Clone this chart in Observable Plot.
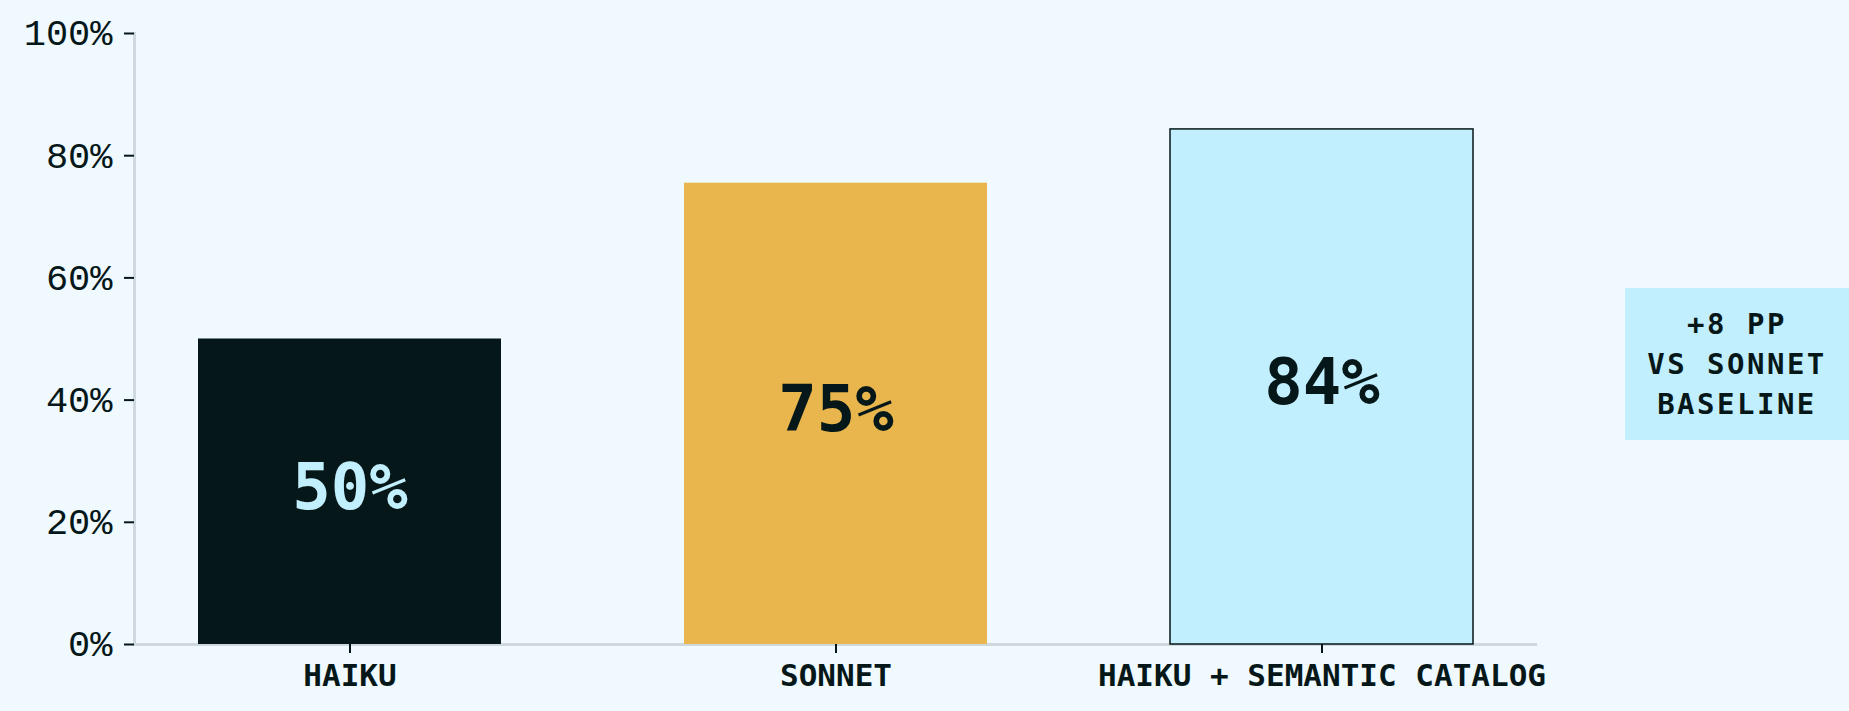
<!DOCTYPE html>
<html>
<head>
<meta charset="utf-8">
<script src="https://cdn.jsdelivr.net/npm/d3@7"></script>
<script src="https://cdn.jsdelivr.net/npm/@observablehq/plot@0.6"></script>
<style>
  html, body { margin: 0; padding: 0; background: #eff9fe; }
  #wrap { position: relative; width: 1849px; height: 711px; overflow: hidden; }
  #note {
    position: absolute; left: 1625px; top: 288px; width: 224px; height: 152px;
    background: #c2effd; color: #061719;
    font-family: "DejaVu Sans Mono", monospace; font-weight: bold; font-size: 29px;
    line-height: 40px; letter-spacing: 2.5px; text-align: center;
    display: flex; align-items: center; justify-content: center;
  }
  .yax text { font-family: "Liberation Mono", monospace; }
</style>
</head>
<body>
<div id="wrap">
  <div id="chart"></div>
  <div id="note"></div>
</div>
<script>
const categories = ["HAIKU", "SONNET", "HAIKU + SEMANTIC CATALOG"];
const values = [0.50, 0.755, 0.843];
const valueLabels = ["50%", "75%", "84%"];
const barFills = ["#061719", "#e8b64d", "#c2effd"];
const barStrokes = ["none", "none", "#061719"];
const labelColors = ["#c2effd", "#061719", "#061719"];
const yTicks = [0, 0.2, 0.4, 0.6, 0.8, 1.0];
const noteLines = ["+8 PP", "VS SONNET", "BASELINE"];

const data = categories.map((c, i) => ({
  cat: c, value: values[i], label: valueLabels[i],
  fill: barFills[i], stroke: barStrokes[i], color: labelColors[i]
}));

const chart = Plot.plot({
  width: 1849,
  height: 711,
  marginLeft: 134,
  marginRight: 312,
  marginTop: 33,
  marginBottom: 67,
  style: { background: "#eff9fe", color: "#061719", fontFamily: "DejaVu Sans Mono, monospace" },
  x: { domain: categories, paddingInner: 0.377, paddingOuter: 0.13, label: null },
  y: { domain: [0, 1], label: null },
  marks: [
    Plot.frame({ anchor: "left", stroke: "#cfd8dd", strokeWidth: 3 }),
    Plot.ruleY([0], { stroke: "#cfd8dd", strokeWidth: 3 }),
    Plot.barY(data, {
      x: "cat", y: "value",
      fill: d => d.fill, stroke: d => d.stroke, strokeWidth: 1.5
    }),
    Plot.text(data, {
      x: "cat", y: d => d.value / 2, text: "label",
      fill: d => d.color, fontSize: 64, fontWeight: "bold", dy: -3
    }),
    Plot.axisY({
      ticks: yTicks, tickFormat: d3.format(".0%"), tickSize: 10, tickPadding: 12,
      fontSize: 37, strokeWidth: 2, label: null, className: "yax"
    }),
    Plot.axisX({
      tickSize: 9, tickPadding: 10, fontSize: 31, fontWeight: "bold",
      strokeWidth: 2, label: null
    })
  ]
});
document.getElementById("chart").appendChild(chart);
document.getElementById("note").innerHTML = noteLines.join("<br>");
</script>
</body>
</html>
